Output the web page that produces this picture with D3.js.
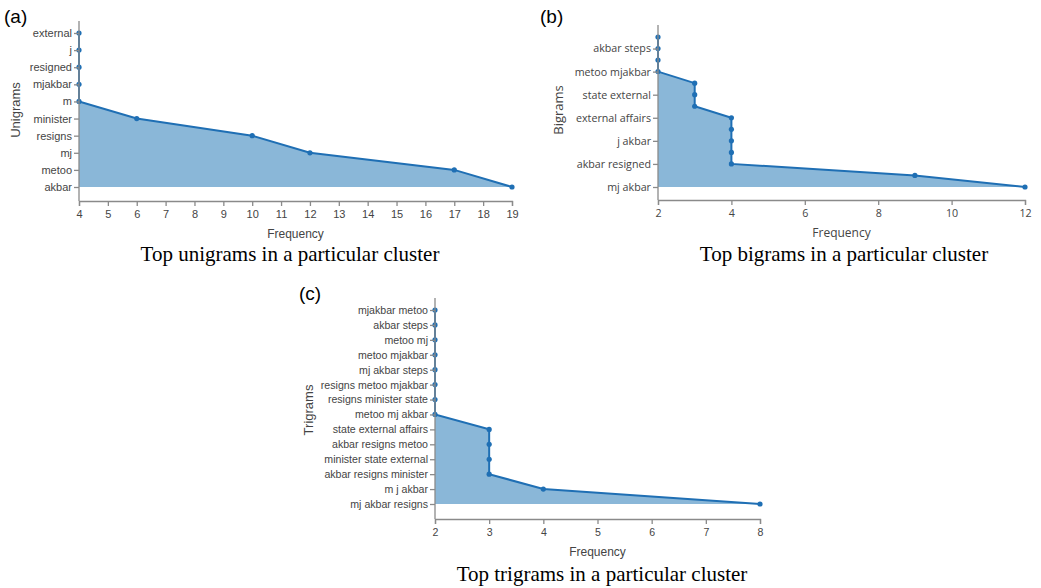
<!DOCTYPE html>
<html><head><meta charset="utf-8">
<script src="https://cdn.jsdelivr.net/npm/d3@7"></script>
<style>body{margin:0;background:#fff}svg{display:block}</style>
</head><body>
<svg id="c" width="1041" height="588"></svg>
<script>
// ---- data ----
const uniCats = ["external","j","resigned","mjakbar","m","minister","resigns","mj","metoo","akbar"];
const uniVals = [4,4,4,4,4,6,10,12,17,19];
const uniTicks = [4,5,6,7,8,9,10,11,12,13,14,15,16,17,18,19];

const biCats = ["mjakbar metoo","akbar steps","metoo mj","metoo mjakbar","resigns minister","state external","minister state","external affairs","akbar resigns","j akbar","m j","akbar resigned","mj akbar steps","mj akbar"];
const biVals = [2,2,2,2,3,3,3,4,4,4,4,4,9,12];
const biShown = ["akbar steps","metoo mjakbar","state external","external affairs","j akbar","akbar resigned","mj akbar"];
const biTicks = [2,4,6,8,10,12];

const triCats = ["mjakbar metoo","akbar steps","metoo mj","metoo mjakbar","mj akbar steps","resigns metoo mjakbar","resigns minister state","metoo mj akbar","state external affairs","akbar resigns metoo","minister state external","akbar resigns minister","m j akbar","mj akbar resigns"];
const triVals = [2,2,2,2,2,2,2,2,3,3,3,3,4,8];
const triTicks = [2,3,4,5,6,7,8];

const svg = d3.select("#c");
const LINE = "#1f6fb4", FILL = "#8ab7d8", AX = "#8a8a8a", TXT = "#444";

function panel(o){
  const g = svg.append("g");
  const x = d3.scaleLinear().domain([o.ticks[0], o.ticks[o.ticks.length-1]]).range([o.x0, o.x1]);
  const y = d3.scalePoint().domain(o.cats).range([o.yFirst, o.yLast]);
  const data = o.cats.map((c,i)=>({c, v:o.vals[i]}));
  const xmin = x.domain()[0];
  g.append("path").datum(data)
    .attr("fill", FILL)
    .attr("d", d3.area().y(d=>y(d.c)).x0(x(xmin)).x1(d=>x(d.v)));
  g.append("path").datum(data)
    .attr("fill","none").attr("stroke",LINE).attr("stroke-width",2)
    .attr("d", d3.line().y(d=>y(d.c)).x(d=>x(d.v)));
  g.selectAll("circle").data(data).join("circle")
    .attr("cx", d=>x(d.v)).attr("cy", d=>y(d.c)).attr("r", 2.6).attr("fill", LINE);
  // x axis
  const xa = g.append("g").attr("transform",`translate(0,${o.axisY})`)
    .call(d3.axisBottom(x).tickValues(o.ticks).tickFormat(d3.format("d")).tickSizeOuter(5).tickSize(5).tickPadding(4));
  // y axis
  const ya = g.append("g").attr("transform",`translate(${o.x0},0)`)
    .call(d3.axisLeft(y).tickValues(o.shown || o.cats).tickSize(5).tickSizeOuter(0).tickPadding(2));
  ya.select(".domain").attr("d", `M0,${o.axisTop}V${o.axisY}`);
  [xa, ya].forEach(a=>{
    a.selectAll("path,line").attr("stroke", AX).attr("stroke-width",1.3);
    a.selectAll("text").attr("fill", TXT).attr("font-family", o.font).attr("font-size", o.fs);
  });
  g.append("text").attr("x",(o.x0+o.x1)/2).attr("y",o.axisY+37).attr("text-anchor","middle")
    .attr("font-family",o.font).attr("font-size",12).attr("fill",TXT).text("Frequency");
  g.append("text").attr("transform",`translate(${o.ylabX},${o.ylabY}) rotate(-90)`).attr("text-anchor","middle")
    .attr("font-family",o.font).attr("font-size",13).attr("fill",TXT).text(o.ylab);
  g.append("text").attr("x",o.capX).attr("y",o.capY).attr("text-anchor","middle")
    .attr("font-family","Liberation Serif, Times New Roman, serif").attr("font-size",21).attr("fill","#000").text(o.caption);
  g.append("text").attr("x",o.tagX).attr("y",o.tagY)
    .attr("font-family","Liberation Sans, Arial, sans-serif").attr("font-size",19).attr("fill","#000").text(o.tag);
}

panel({cats:uniCats, vals:uniVals, ticks:uniTicks, x0:79, x1:512, yFirst:33, yLast:187, axisTop:21, axisY:201, fs:11,
  font:"Liberation Sans, Arial, sans-serif", ylab:"Unigrams", ylabX:20, ylabY:110,
  caption:"Top unigrams in a particular cluster", capX:290, capY:261, tag:"(a)", tagX:4, tagY:23});
panel({cats:biCats, vals:biVals, ticks:biTicks, shown:biShown, x0:658, x1:1025, yFirst:37, yLast:187, axisTop:25, axisY:200, fs:10.7,
  font:"Open Sans, sans-serif", ylab:"Bigrams", ylabX:563, ylabY:110,
  caption:"Top bigrams in a particular cluster", capX:844, capY:261, tag:"(b)", tagX:540, tagY:23});
panel({cats:triCats, vals:triVals, ticks:triTicks, x0:435, x1:760, yFirst:310, yLast:504, axisTop:298, axisY:519, fs:10.6,
  font:"Liberation Sans, Arial, sans-serif", ylab:"Trigrams", ylabX:313, ylabY:410,
  caption:"Top trigrams in a particular cluster", capX:602, capY:581, tag:"(c)", tagX:299, tagY:300});
</script>
</body></html>
